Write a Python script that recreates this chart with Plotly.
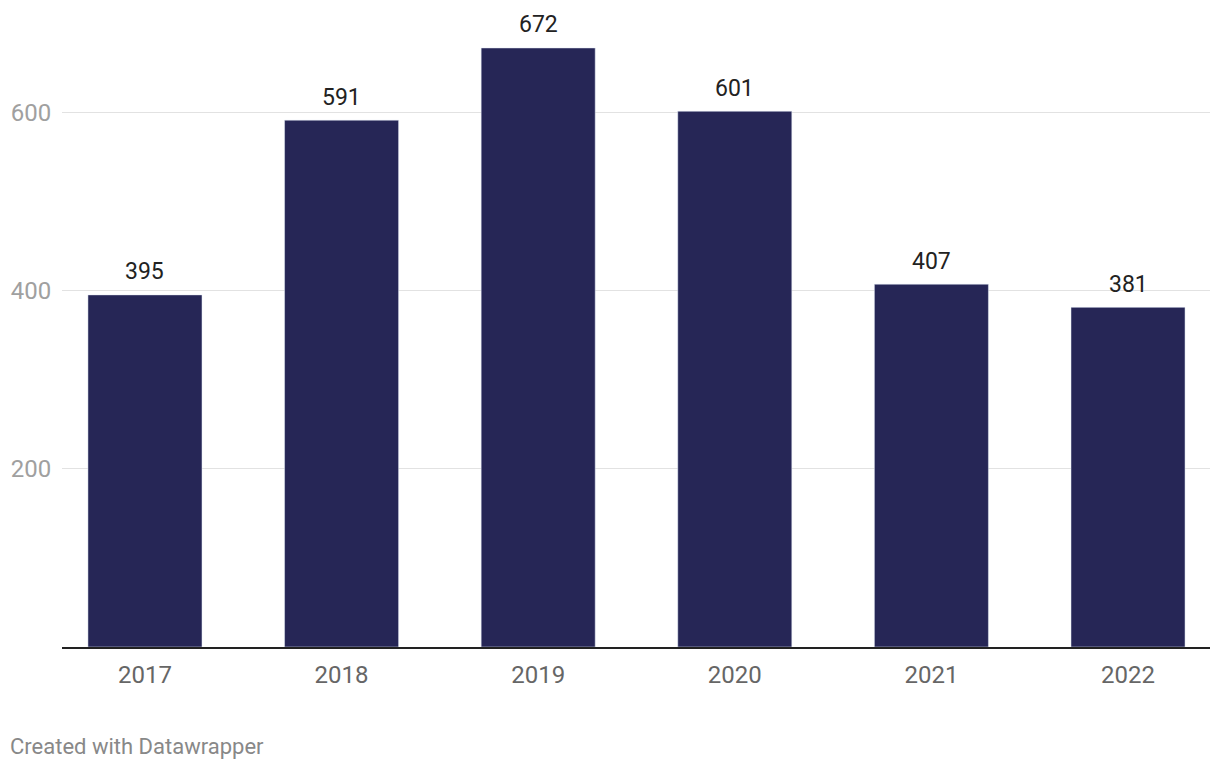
import plotly.graph_objects as go

years = ['2017', '2018', '2019', '2020', '2021', '2022']
values = [395, 591, 672, 601, 407, 381]
y_ticks = [200, 400, 600]

bar_color = '#262656'

fig = go.Figure()

fig.add_trace(
    go.Bar(
        x=years,
        y=values,
        marker_color=bar_color,
        width=0.58,
        hoverinfo='x+y',
    )
)

# подписи значений над столбцами (x = номер категории)
for i, val in enumerate(values):
    fig.add_annotation(
        x=i, y=val,
        text=str(val),
        showarrow=False,
        yanchor='middle',
        yshift=23,
        font=dict(size=23, color='#222222'),
    )

fig.update_layout(
    width=1220,
    height=770,
    margin=dict(l=54, r=18, t=15, b=131),
    plot_bgcolor='white',
    paper_bgcolor='white',
    font=dict(family='Roboto', size=24),
    showlegend=False,
)

fig.update_xaxes(
    type='category',
    range=[-0.422, 5.417],
    automargin=False,
    showline=True,
    linecolor='#222222',
    linewidth=2,
    ticks='outside',
    ticklen=5,
    tickcolor='rgba(0,0,0,0)',
    tickfont=dict(size=24, color='#666666'),
    showgrid=False,
)

fig.update_yaxes(
    range=[0, 700],
    automargin=False,
    tickvals=y_ticks,
    showgrid=True,
    gridcolor='#e2e2e2',
    gridwidth=1,
    zeroline=False,
    ticks='outside',
    ticklen=5,
    tickcolor='rgba(0,0,0,0)',
    tickfont=dict(size=24, color='#a0a0a0'),
)

# подпись внизу
fig.add_annotation(
    text='Created with Datawrapper',
    xref='paper', yref='paper',
    x=0, y=0,
    xshift=-54, yshift=-99,
    xanchor='left', yanchor='middle',
    showarrow=False,
    font=dict(size=22, color='#888888'),
)

fig.write_html('out.html')
